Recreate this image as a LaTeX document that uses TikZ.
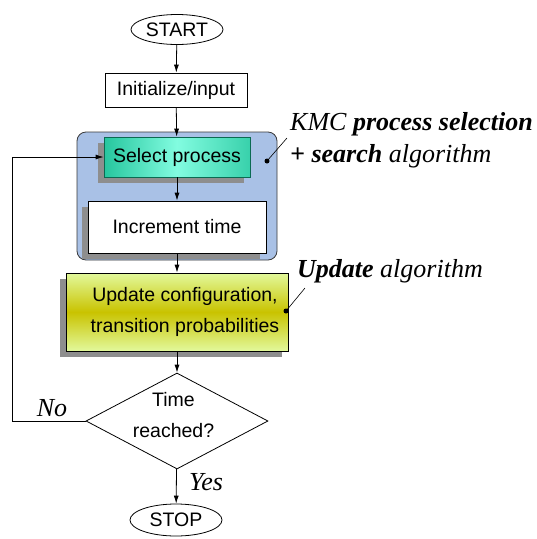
\documentclass[tikz,border=0pt]{standalone}
\usepackage{fontspec}
\setmainfont{Liberation Serif}
\setsansfont{Liberation Sans}
\usetikzlibrary{shapes.geometric,arrows.meta,shadows}
\definecolor{grpblue}{HTML}{A9C1E6}
\definecolor{grpline}{HTML}{3A3A3A}
\definecolor{shadowgray}{HTML}{8E8E8E}
\definecolor{tealdark}{HTML}{26C69E}
\definecolor{teallight}{HTML}{82FCE0}
\definecolor{tealline}{HTML}{0B6A52}
\definecolor{limelight}{HTML}{E2F99C}
\definecolor{olive}{HTML}{C9C300}
\begin{document}
\begin{tikzpicture}[x=1pt,y=-1pt,
  every node/.style={font=\sffamily\fontsize{19.5}{31}\selectfont},
  flow/.style={draw=black,line width=0.8pt,-{Latex[length=8pt,width=5pt]}},
  terminal/.style={ellipse,draw=black,line width=0.8pt,minimum width=92pt,minimum height=30pt,inner sep=0pt},
  procbox/.style={rectangle,draw=black,line width=0.8pt,fill=white,inner sep=0pt,align=center},
  shadowed/.style={drop shadow={shadow xshift=-6pt,shadow yshift=-6pt,fill=shadowgray,opacity=1}},
  note/.style={font=\rmfamily\itshape\fontsize{26}{32}\selectfont,inner sep=0pt,align=left},
  pointer/.style={draw=black,line width=0.6pt},
  dot/.style={circle,fill=black,inner sep=0pt,minimum size=5pt}]
\useasboundingbox (0,0) rectangle (537,539);

% grouping panel for the KMC selection step
\node[rectangle,rounded corners=9pt,draw=grpline,line width=0.8pt,fill=grpblue,
      minimum width=200pt,minimum height=128pt,inner sep=0pt] (grp) at (177,196) {};

% flow nodes
\node[terminal] (start) at (177,29.5) {START};
\node[procbox,minimum width=142pt,minimum height=34pt] (init) at (176,90) {Initialize/input};
\node[procbox,shadowed,draw=tealline,left color=tealdark,right color=tealdark!80!teallight,middle color=teallight,
      minimum width=146pt,minimum height=40pt] (select) at (177,157) {Select process};
\node[procbox,shadowed,minimum width=178pt,minimum height=52pt] (incr) at (177,227) {Increment time};
\node[procbox,shadowed,top color=limelight,bottom color=limelight,middle color=olive,
      minimum width=222pt,minimum height=78pt] (update) at (177,312)
      {\hspace*{16pt}Update configuration,\\\hspace*{16pt}transition probabilities};
\node[diamond,draw=black,line width=0.8pt,fill=white,aspect=2,inner sep=0pt,
      minimum width=182pt,minimum height=96pt] (check) at (177,421) {};
\node[align=center,inner sep=0pt] (checktext) at (173.5,415) {Time\\reached?};
\node[terminal,minimum height=32pt] (stop) at (176,520) {STOP};

% connectors
\draw[flow] (start) -- (init);
\draw[flow] (init) -- (select);
\draw[flow] (select) -- (incr);
\draw[flow] (incr.south) -- (update.north);
\draw[flow] (update) -- (check);
\draw[flow] (check) -- (stop);
\coordinate (loop) at (12,421);
\draw[flow] (check.west) -- (loop) |- (select.west);

% branch labels
\node[note] (no) at (52,408) {No};
\node[note,anchor=west] (yes) at (189,482) {Yes};

% annotations
\node[dot] (d1) at (267,161) {};
\coordinate (p1) at (287,138);
\draw[pointer] (d1.center) -- (p1);
\node[note,anchor=west] (kmc) at (290,140)
  {KMC \textbf{process selection}\\\textbf{+ search} algorithm};

\node[dot] (d2) at (286,311) {};
\coordinate (p2) at (305,288);
\draw[pointer] (d2.center) -- (p2);
\node[note,anchor=west] (upd) at (297,271) {\textbf{Update} algorithm};
\end{tikzpicture}
\end{document}
